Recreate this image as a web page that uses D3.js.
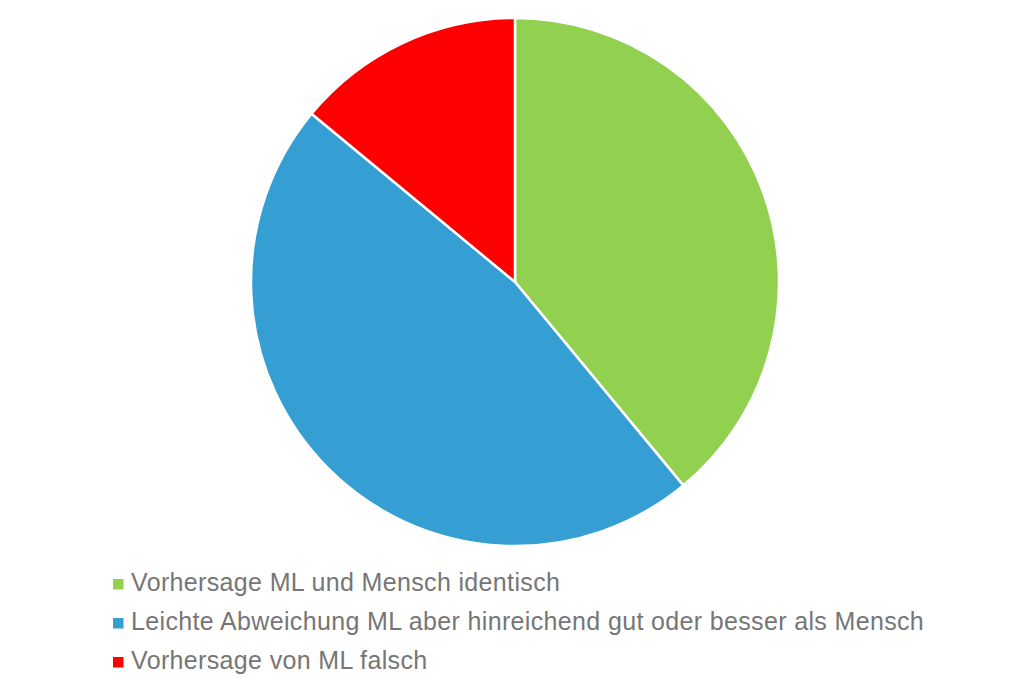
<!DOCTYPE html>
<html>
<head>
<meta charset="utf-8">
<script src="https://cdn.jsdelivr.net/npm/d3@7"></script>
<style>
  body { margin: 0; background: #fff; }
</style>
</head>
<body>
<svg id="pieSVG" width="1030" height="686"></svg>
<script>
const categories = [
  "Vorhersage ML und Mensch identisch",
  "Leichte Abweichung ML aber hinreichend gut oder besser als Mensch",
  "Vorhersage von ML falsch"
];
const values = [39, 47, 14];
const colors = ["#92d050", "#359fd3", "#ff0000"];

const svg = d3.select("#pieSVG");
const cx = 515, cy = 282, radius = 264;

const data = categories.map((c, i) => ({ name: c, value: values[i] }));

const pie = d3.pie().value(d => d.value).sort(null);
const arc = d3.arc().innerRadius(0).outerRadius(radius);
const color = d3.scaleOrdinal().domain(categories).range(colors);

const g = svg.append("g").attr("transform", `translate(${cx},${cy})`);

g.selectAll("path")
    .data(pie(data))
    .enter().append("path")
    .attr("d", arc)
    .attr("fill", d => color(d.data.name))
    .attr("stroke", "#fff")
    .attr("stroke-width", 2.5)
    .attr("stroke-linejoin", "round");

// legend
const legendY = d3.scaleBand().domain(categories).range([565, 682]);

const legend = svg.append("g");
const item = legend.selectAll("g")
    .data(categories)
    .enter().append("g")
    .attr("transform", d => `translate(113,${legendY(d)})`);

item.append("rect")
    .attr("x", 0)
    .attr("y", 14)
    .attr("width", 10.5)
    .attr("height", 10.5)
    .attr("fill", d => color(d));

item.append("text")
    .attr("x", 18)
    .attr("y", 26)
    .attr("fill", "#767676")
    .style("font-family", "'Liberation Sans', Arial, sans-serif")
    .style("font-size", "25px")
    .style("letter-spacing", "0.35px")
    .text(d => d);
</script>
</body>
</html>
